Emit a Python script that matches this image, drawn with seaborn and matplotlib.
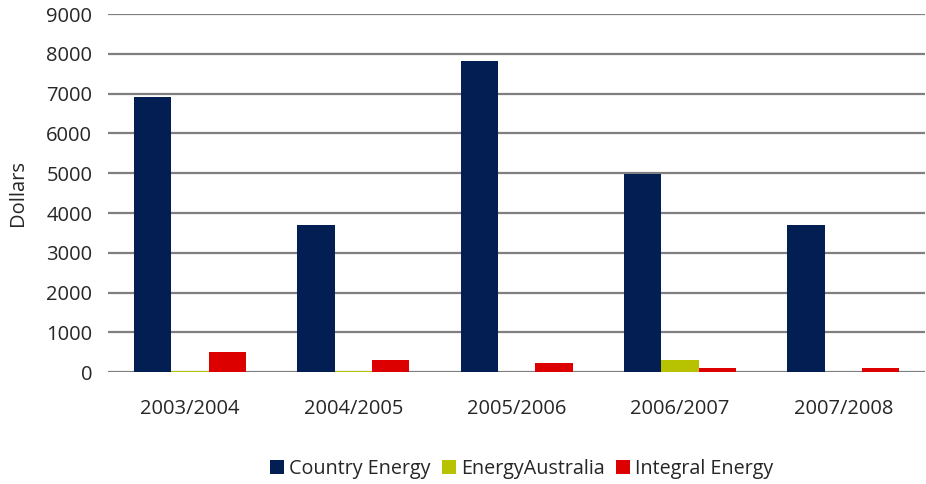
import matplotlib
matplotlib.use("Agg")
import matplotlib.pyplot as plt
import seaborn as sns
import pandas as pd

years = ["2003/2004", "2004/2005", "2005/2006", "2006/2007", "2007/2008"]
country_energy = [6920, 3700, 7820, 4990, 3700]
energy_australia = [40, 40, 0, 315, 0]
integral_energy = [520, 315, 240, 110, 110]
series_names = ["Country Energy", "EnergyAustralia", "Integral Energy"]
colors = ["#021E52", "#B7C300", "#DD0000"]
yticks = [0, 1000, 2000, 3000, 4000, 5000, 6000, 7000, 8000, 9000]

rows = []
for name, vals in zip(series_names, [country_energy, energy_australia, integral_energy]):
    for y, v in zip(years, vals):
        rows.append({"Year": y, "Company": name, "Dollars": v})
df = pd.DataFrame(rows)

sns.set_style("white")
plt.rcParams["font.family"] = ["Open Sans", "DejaVu Sans"]

fig = plt.figure(figsize=(9.26, 4.84), dpi=100)
ax = fig.add_axes([0.117, 0.231, 0.882, 0.740])

sns.barplot(data=df, x="Year", y="Dollars", hue="Company", palette=colors,
            hue_order=series_names, order=years, width=0.685, saturation=1,
            linewidth=0, ax=ax, legend=True)

ax.set_ylim(0, 9000)
ax.set_yticks(yticks)
ax.set_yticklabels([str(t) for t in yticks], fontsize=14.5)
ax.set_xlim(-0.5, 4.5)
ax.tick_params(axis="x", labelsize=14.5, length=0, pad=19)
ax.tick_params(axis="y", length=0, pad=11.5)
ax.yaxis.grid(True, color="#7F7F7F", linewidth=1.6)
ax.set_axisbelow(True)
for s in ["top", "right", "left", "bottom"]:
    ax.spines[s].set_visible(False)
ax.set_xlabel("")
ax.set_ylabel("Dollars", fontsize=14.5, labelpad=8)
ax.yaxis.set_label_coords(-0.098, 0.5)

handles, labels = ax.get_legend_handles_labels()
ax.legend(handles, labels, loc="center", bbox_to_anchor=(0.506, -0.27),
          ncol=3, frameon=False, fontsize=14.2, handlelength=0.71,
          handleheight=0.71, handletextpad=0.25, columnspacing=0.56)

fig.savefig("out.png", dpi=100)
